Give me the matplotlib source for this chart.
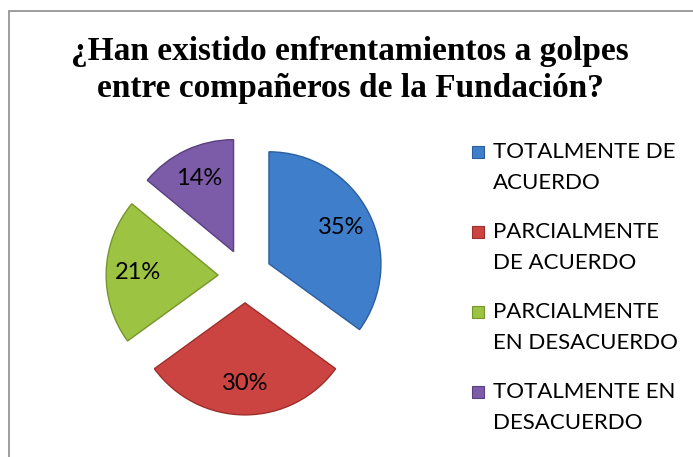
import matplotlib
matplotlib.use("Agg")
import matplotlib.pyplot as plt
from matplotlib.patches import Rectangle

title_lines = ["¿Han existido enfrentamientos a golpes", "entre compañeros de la Fundación?"]
categories = ["TOTALMENTE DE\nACUERDO", "PARCIALMENTE\nDE ACUERDO",
              "PARCIALMENTE\nEN DESACUERDO", "TOTALMENTE EN\nDESACUERDO"]
values = [35, 30, 21, 14]
colors = ["#3F7ECB", "#CC4441", "#9DC342", "#7C5CA8"]
edges = ["#2C5E9E", "#9B2F2C", "#76952C", "#5A3F80"]

W, H = 693, 457
fig = plt.figure(figsize=(W / 100, H / 100), dpi=100)

# chart frame (left and top border visible)
fig.add_artist(Rectangle((8.5 / W, -0.1), 2.0, (H - 11) / H + 0.1, transform=fig.transFigure,
                         fill=False, edgecolor="#8C8C8C", linewidth=1.2))

for j, (tl, base) in enumerate(zip(title_lines, [60, 97])):
    fig.text(350 / W, 1 - base / H, tl, ha="center", va="baseline", fontsize=24,
             fontweight="bold", family="Liberation Serif")

# pie axes: center (245, 276) px, radius 112 px
cx, cy, r, L = 245, 276, 112, 175
ax = fig.add_axes([(cx - L) / W, (H - cy - L) / H, 2 * L / W, 2 * L / H])
wedges, texts, autotexts = ax.pie(
    values, colors=colors, startangle=90, counterclock=False,
    explode=[0.24] * len(values), autopct="%d%%", pctdistance=0.72,
    radius=1, wedgeprops=dict(linewidth=1.0),
    textprops=dict(fontsize=17, family="Lato", color="black"))
for w, e in zip(wedges, edges):
    w.set_edgecolor(e)
lim = L / r
ax.set_xlim(-lim, lim)
ax.set_ylim(-lim, lim)
ax.set_aspect("equal")
ax.axis("off")

# legend: square marker beside the first line of each label
leg_x, base0, leg_step, line_gap = 493, 158, 80, 31
for i, (lab, c, e) in enumerate(zip(categories, colors, edges)):
    yb = base0 + i * leg_step
    fig.add_artist(Rectangle((472 / W, 1 - yb / H), 12 / W, 12 / H,
                             transform=fig.transFigure, facecolor=c, edgecolor=e,
                             linewidth=0.8))
    for k, line in enumerate(lab.split("\n")):
        fig.text(leg_x / W, 1 - (yb + k * line_gap) / H, line, ha="left",
                 va="baseline", fontsize=16, family="Lato")

fig.savefig("out.png", dpi=100)
